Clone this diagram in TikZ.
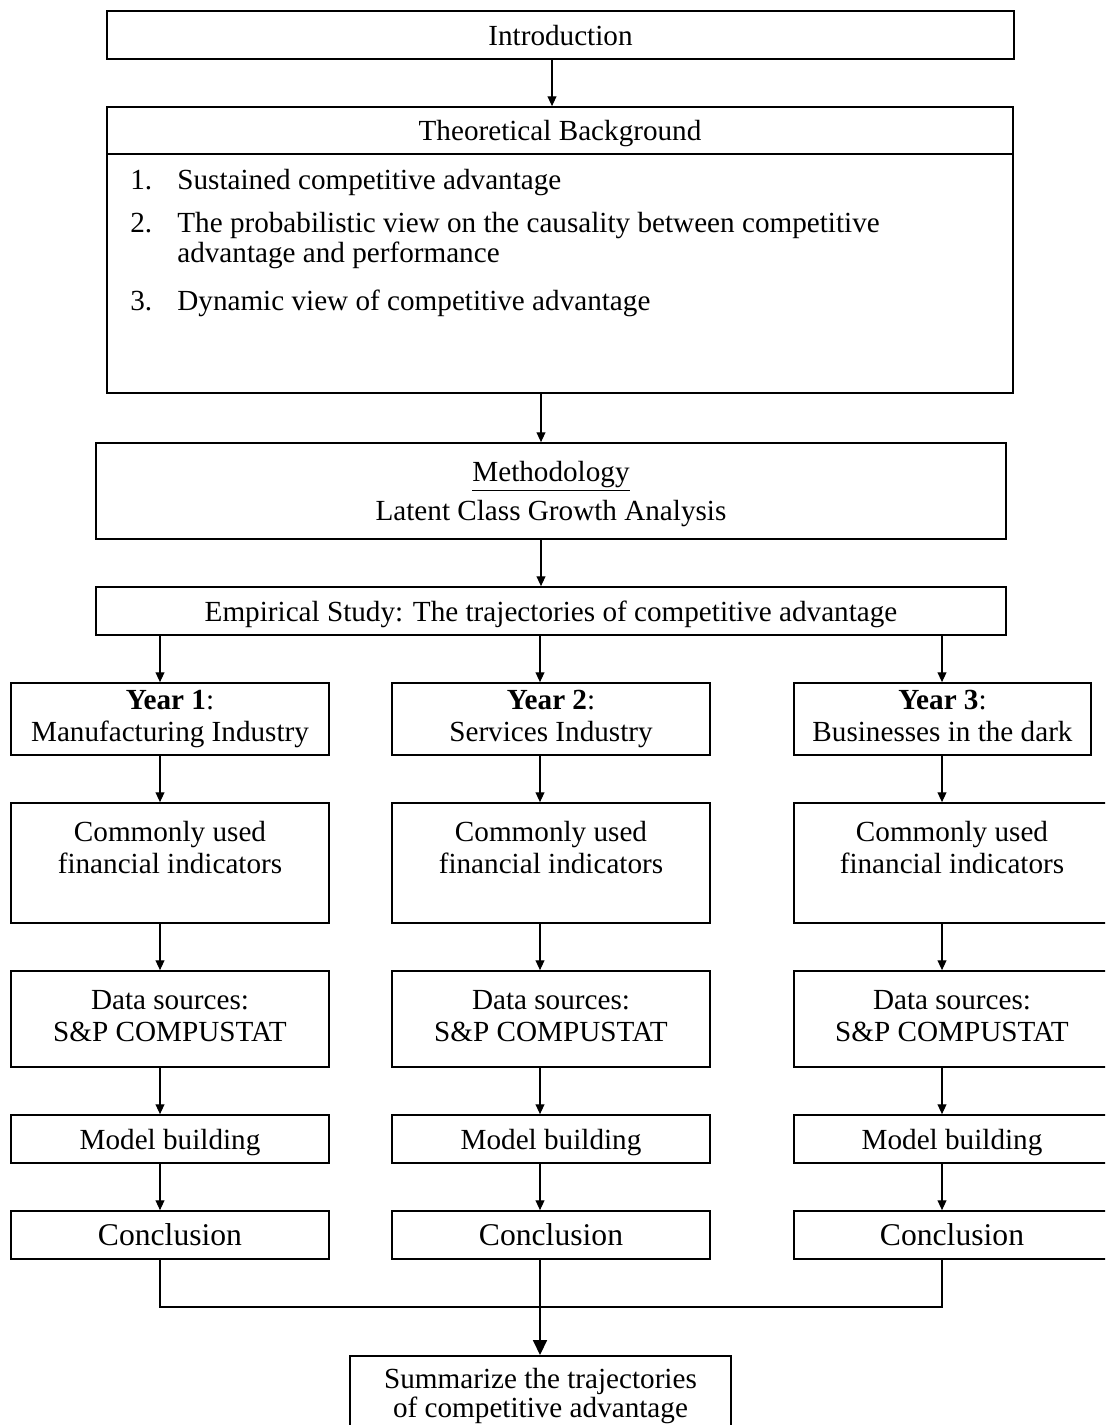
\documentclass[tikz,border=0pt]{standalone}
\usepackage{fontspec}
\setmainfont{Liberation Serif}
\usetikzlibrary{positioning}
\usetikzlibrary{arrows.meta}
\tikzset{
    mybox/.style = {rectangle, draw=black, line width=1pt, align=center, inner sep=0pt, font=\fontsize{16.6}{18}\selectfont, text=black},
    myboxw/.style = {mybox, text depth=0pt, minimum width=18.14cm, minimum height=0.96cm},
    myboxm/.style = {mybox, minimum width=18.20cm},
    myboxc/.style = {mybox, minimum width=6.36cm},
    myboxr/.style = {mybox, minimum width=6.32cm},
    myboxk/.style = {mybox, text depth=0pt, font=\fontsize{18}{20}\selectfont, minimum height=0.96cm},
    mytext/.style = {inner sep=0pt, font=\fontsize{16.6}{18}\selectfont, text=black},
    edgea/.style = {-{Triangle[length=5.5pt,width=5pt]}, line width=0.6pt, black},
    edgeb/.style = {-{Triangle[length=8.5pt,width=8pt]}, line width=0.8pt, black},
    edgen/.style = {-, line width=0.8pt, black},
    sepline/.style = {-, line width=1.6pt, black}
}

\begin{document}
\begin{tikzpicture}
\useasboundingbox (0,0) rectangle (22.1,-28.5);
\clip (0,0) rectangle (22.1,-28.5);
% arrow columns
\coordinate (ct) at (11.04,0);
\coordinate (cm) at (10.82,0);
\coordinate (c1) at (3.20,0);
\coordinate (c2) at (10.80,0);
\coordinate (c3) at (18.84,0);
%
\node[myboxw] at (11.21,-0.70) (intro) {Introduction};
\node[mybox, minimum width=18.12cm, minimum height=5.72cm] at (11.20,-5.00) (theo) {};
\draw[sepline] (theo.west |- 0,-3.08) -- (theo.east |- 0,-3.08);
\node[mytext, text depth=0pt] at (11.20,-2.61) (theohead) {Theoretical Background};
\node[mytext, anchor=base west] at (2.60,-3.80) (n1) {1.};
\node[mytext, anchor=base west] at (3.54,-3.80) (t1) {Sustained competitive advantage};
\node[mytext, anchor=base west] at (2.60,-4.66) (n2) {2.};
\node[mytext, anchor=base west] at (3.54,-4.66) (t2) {The probabilistic view on the causality between competitive};
\node[mytext, anchor=base west] at (3.54,-5.26) (t2b) {advantage and performance};
\node[mytext, anchor=base west] at (2.60,-6.22) (n3) {3.};
\node[mytext, anchor=base west] at (3.54,-6.22) (t3) {Dynamic view of competitive advantage};
\node[myboxm, minimum height=1.92cm, text depth=0pt] at (11.02,-9.82) (meth) {\underline{Methodology}\\[4.6pt]Latent Class Growth Analysis};
\node[myboxm, minimum height=0.96cm, text depth=0pt] at (11.02,-12.22) (emp) {Empirical Study: The trajectories of competitive advantage};
%
\node[myboxc, minimum height=1.44cm] at (3.40,-14.38) (year1) {\textbf{Year 1}:\\Manufacturing Industry};
\node[myboxc, minimum height=1.44cm] at (11.02,-14.38) (year2) {\textbf{Year 2}:\\Services Industry};
\node[mybox, minimum width=5.94cm, minimum height=1.44cm] at (18.85,-14.38) (year3) {\textbf{Year 3}:\\Businesses in the dark\vphantom{g}};
\node[myboxc, minimum height=2.40cm] at (3.40,-17.26) (common1) {Commonly used\\financial indicators\\\mbox{}};
\node[myboxc, minimum height=2.40cm] at (11.02,-17.26) (common2) {Commonly used\\financial indicators\\\mbox{}};
\node[myboxr, minimum height=2.40cm] at (19.04,-17.26) (common3) {Commonly used\\financial indicators\\\mbox{}};
\node[myboxc, minimum height=1.92cm] at (3.40,-20.38) (data1) {Data sources:\\S\&P COMPUSTAT\vphantom{g}};
\node[myboxc, minimum height=1.92cm] at (11.02,-20.38) (data2) {Data sources:\\S\&P COMPUSTAT\vphantom{g}};
\node[myboxr, minimum height=1.92cm] at (19.04,-20.38) (data3) {Data sources:\\S\&P COMPUSTAT\vphantom{g}};
\node[myboxc, minimum height=0.96cm, text depth=0pt] at (3.40,-22.78) (model1) {Model building};
\node[myboxc, minimum height=0.96cm, text depth=0pt] at (11.02,-22.78) (model2) {Model building};
\node[myboxr, minimum height=0.96cm, text depth=0pt] at (19.04,-22.78) (model3) {Model building};
\node[myboxk, minimum width=6.36cm] at (3.40,-24.70) (concl1) {Conclusion};
\node[myboxk, minimum width=6.36cm] at (11.02,-24.70) (concl2) {Conclusion};
\node[myboxk, minimum width=6.32cm] at (19.04,-24.70) (concl3) {Conclusion};
\node[mybox, font=\fontsize{16.6}{16.6}\selectfont, minimum width=7.62cm, minimum height=1.62cm, anchor=north] at (10.81,-27.10) (summ) {Summarize the trajectories\\of competitive advantage};
\coordinate (jn1) at (3.20,-26.14);
\coordinate (jn3) at (18.84,-26.14);
%
\draw[edgea] (intro.south -| ct) -- (theo.north -| ct);
\draw[edgea] (theo.south -| cm) -- (meth.north -| cm);
\draw[edgea] (meth.south -| cm) -- (emp.north -| cm);
\draw[edgea] (emp.south -| c1) -- (year1.north -| c1);
\draw[edgea] (emp.south -| c2) -- (year2.north -| c2);
\draw[edgea] (emp.south -| c3) -- (year3.north -| c3);
\draw[edgea] (year1.south -| c1) -- (common1.north -| c1);
\draw[edgea] (year2.south -| c2) -- (common2.north -| c2);
\draw[edgea] (year3.south -| c3) -- (common3.north -| c3);
\draw[edgea] (common1.south -| c1) -- (data1.north -| c1);
\draw[edgea] (common2.south -| c2) -- (data2.north -| c2);
\draw[edgea] (common3.south -| c3) -- (data3.north -| c3);
\draw[edgea] (data1.south -| c1) -- (model1.north -| c1);
\draw[edgea] (data2.south -| c2) -- (model2.north -| c2);
\draw[edgea] (data3.south -| c3) -- (model3.north -| c3);
\draw[edgea] (model1.south -| c1) -- (concl1.north -| c1);
\draw[edgea] (model2.south -| c2) -- (concl2.north -| c2);
\draw[edgea] (model3.south -| c3) -- (concl3.north -| c3);
\draw[edgen] (concl1.south -| c1) -- (jn1) -- (jn3) -- (concl3.south -| c3);
\draw[edgeb] (concl2.south -| c2) -- (summ.north -| c2);
\end{tikzpicture}
\end{document}
